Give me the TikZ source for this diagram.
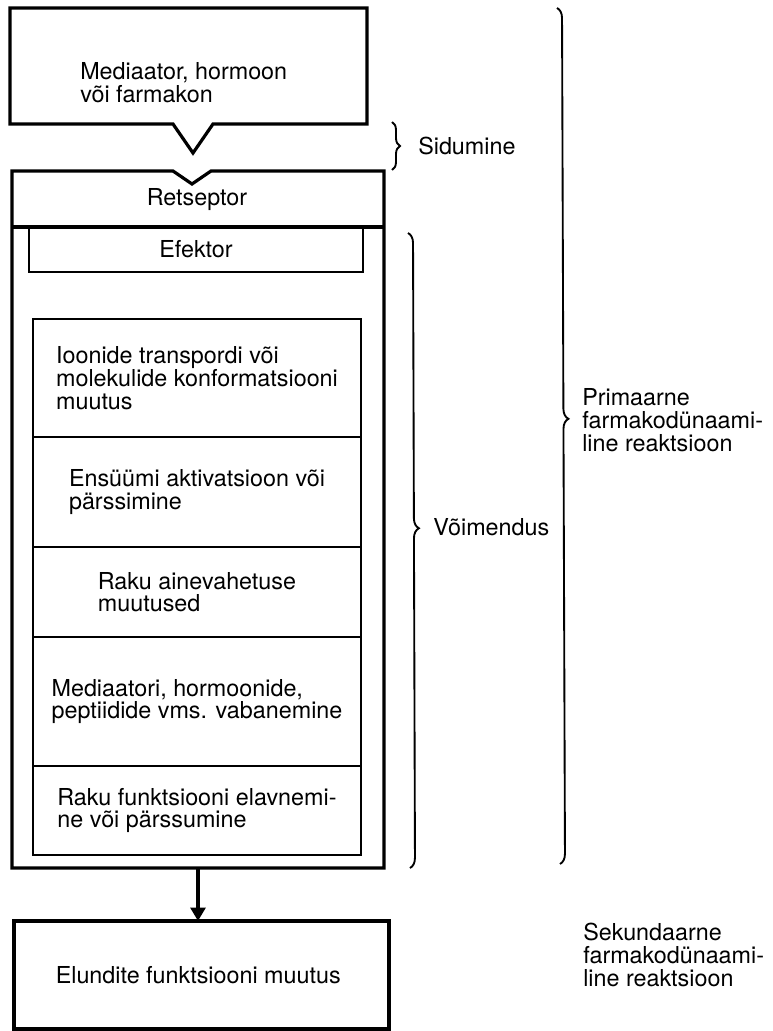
\documentclass[tikz,border=0pt]{standalone}
\usepackage{fontspec}
\setmainfont{TeX Gyre Heros}
\usetikzlibrary{arrows.meta, positioning, decorations.pathreplacing}

\begin{document}
\begin{tikzpicture}[x=0.75pt, y=-0.75pt, >={Triangle[length=10pt, width=11pt]},
    txt/.style={font=\fontsize{17.5}{17}\selectfont, align=left, inner sep=0pt},
    side/.style={font=\fontsize{17.5}{17}\selectfont, align=left, inner sep=0pt, anchor=west},
    cell/.style={draw, line width=2.1pt, outer sep=0pt, inner sep=0pt, align=left,
                 minimum width=246pt, font=\fontsize{17.5}{17}\selectfont},
    brc/.style={decorate, line width=1.4pt}]

    \useasboundingbox (0,0) rectangle (773,1031);

    % Mediator box with its binding tip
    \draw[line width=2.4pt, line join=miter]
        (10,8) -- (367,8) -- (367,124) -- (213,124) -- (193,153) -- (173,124) -- (10,124) -- cycle;
    \node[txt, anchor=west] (ligand) at (80,83) {
        Mediaator, hormoon\\
        või farmakon
    };

    % Receptor, outer frame with its notch
    \draw[line width=2.4pt, line join=miter]
        (12,171) -- (173,171) -- (192,184) -- (211,171) -- (384,171) -- (384,868) -- (12,868) -- cycle;
    \draw[line width=2.4pt] (12,227) -- (384,227);
    \node[txt] (retseptor) at (197,200) {Retseptor};
    \coordinate (recbottom) at (198,868);

    % Effector
    \node[cell, minimum width=250.5pt, minimum height=33.75pt] (efektor) at (196,249.5) {Efektor};

    % Chain of cellular events
    \node[cell, minimum height=88.5pt] (ioonid) at (197,378) {
        Ioonide transpordi või\\
        molekulide konformatsiooni\\
        muutus
    };
    \node[cell, minimum height=82.5pt, below=0pt of ioonid] (ensyym) {
        Ensüümi aktivatsioon või\\
        pärssimine
    };
    \node[cell, minimum height=67.5pt, below=0pt of ensyym] (ainevahetus) {
        Raku ainevahetuse\\
        muutused
    };
    \node[cell, minimum height=96.75pt, below=0pt of ainevahetus] (vabanemine) {
        Mediaatori, hormoonide,\\
        peptiidide vms. vabanemine
    };
    \node[cell, minimum height=66.75pt, below=0pt of vabanemine] (funktsioon) {
        Raku funktsiooni elavnemi-\\
        ne või pärssumine
    };

    % Organ response
    \node[cell, line width=2.4pt, minimum width=281.25pt, minimum height=81pt] (elundid) at (201.5,975) {
        Elundite funktsiooni muutus
    };
    \draw[->, line width=2.6pt] (recbottom) -- (recbottom |- elundid.north);

    % Braces and their labels
    \draw[brc, decoration={brace, amplitude=6pt}] (392,122) -- (392,170);
    \node[side] (sidumine) at (418,146) {Sidumine};

    \draw[brc, decoration={brace, amplitude=7.5pt, aspect=0.465}] (408,233) -- (410,868);
    \node[side] (voimendus) at (433,527) {Võimendus};

    \draw[brc, decoration={brace, amplitude=7.5pt, aspect=0.48}] (557,8) -- (560,864);
    \node[side] (primaarne) at (582,420) {
        Primaarne\\
        farmakodünaami-\\
        line reaktsioon
    };

    \node[side] (sekundaarne) at (583,955) {
        Sekundaarne\\
        farmakodünaami-\\
        line reaktsioon
    };

\end{tikzpicture}
\end{document}
